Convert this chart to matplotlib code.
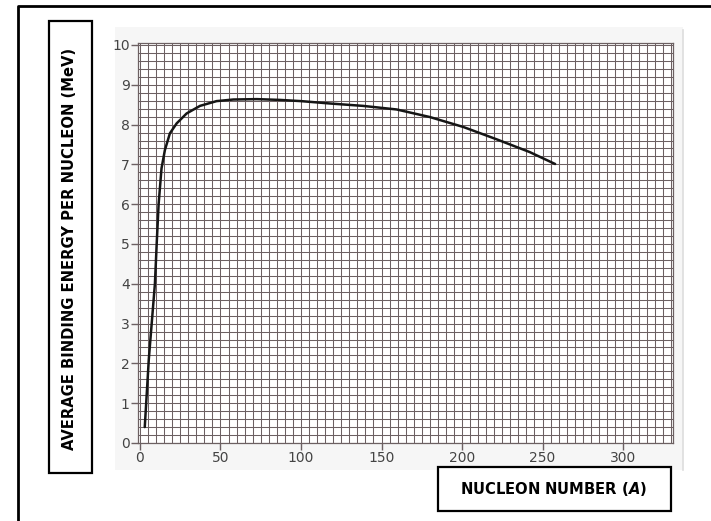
import numpy as np
import matplotlib
matplotlib.use('Agg')
import matplotlib.pyplot as plt
from matplotlib.patches import Rectangle
from matplotlib.lines import Line2D

# values
nucleon_number = [3, 5.5, 9.3, 10.4, 11.6, 13.4, 15.5, 18.6, 22.8, 29, 37.3,
                  47.6, 58, 72.5, 87, 100, 118, 138.5, 159.4, 180, 200.8,
                  221.5, 242, 257.8]
binding_energy = [0.4, 2.1, 4.0, 5.0, 6.0, 6.9, 7.36, 7.78, 8.03, 8.28, 8.47,
                  8.59, 8.63, 8.64, 8.62, 8.59, 8.53, 8.47, 8.38, 8.19, 7.94,
                  7.63, 7.31, 7.01]
x_ticks = [0, 50, 100, 150, 200, 250, 300]
y_ticks = [0, 1, 2, 3, 4, 5, 6, 7, 8, 9, 10]

W, H = 711, 521
GRID = '#6c6062'

plt.rcParams['mathtext.fontset'] = 'custom'
plt.rcParams['mathtext.it'] = 'DejaVu Sans:italic:bold'

fig = plt.figure(figsize=(W / 100, H / 100), dpi=100)


def px(x0, y0, x1, y1):
    # pixel box -> figure fraction [left, bottom, width, height]
    return [x0 / W, 1 - y1 / H, (x1 - x0) / W, (y1 - y0) / H]


# faint scan background behind the graph paper
l, b, w, h = px(115, 27, 683, 470)
fig.patches.append(Rectangle((l, b), w, h, transform=fig.transFigure,
                             facecolor='#f6f6f6', edgecolor='none', zorder=-10))
fig.lines.append(Line2D([683 / W, 683 / W], [1 - 30 / H, 1 - 470 / H],
                        transform=fig.transFigure, color='#dddddd', lw=1.2,
                        zorder=-9))

# outer frame (runs off the right and bottom of the page)
fig.lines.append(Line2D([18 / W, 18 / W, 1.0], [0.0, 1 - 6 / H, 1 - 6 / H],
                        transform=fig.transFigure, color='black', lw=2))

ax = fig.add_axes(px(138, 43, 673, 443))
ax.set_facecolor('white')
ax.set_xlim(-1.2, 331)
ax.set_ylim(0, 10.05)

ax.set_xticks(x_ticks)
ax.set_yticks(y_ticks)
ax.set_xticks(np.arange(0, 331, 5), minor=True)
ax.set_yticks(np.arange(0, 10.01, 0.2), minor=True)
ax.grid(which='both', color=GRID, lw=0.75)
ax.tick_params(which='minor', length=0)
ax.tick_params(which='major', length=5, width=1, color=GRID, pad=1,
               labelsize=10, labelcolor='#444444')
for s in ax.spines.values():
    s.set_color(GRID)
    s.set_linewidth(0.9)

ax.plot(nucleon_number, binding_energy, color='#151515', lw=1.8,
        solid_capstyle='round', solid_joinstyle='round', zorder=5)

# label boxes
for box in [(49, 21, 92, 473), (438, 467, 671, 511)]:
    l, b, w, h = px(*box)
    fig.patches.append(Rectangle((l, b), w, h, transform=fig.transFigure,
                                 facecolor='white', edgecolor='black', lw=1.6))

fig.text(70 / W, 1 - 249 / H, 'AVERAGE BINDING ENERGY PER NUCLEON (MeV)',
         rotation=90, ha='center', va='center', fontsize=10.6, fontweight='bold')
fig.text(554 / W, 1 - 489 / H, r'NUCLEON NUMBER ($\mathit{A}$)',
         ha='center', va='center', fontsize=10.6, fontweight='bold')

fig.savefig('out.png', dpi=100)
